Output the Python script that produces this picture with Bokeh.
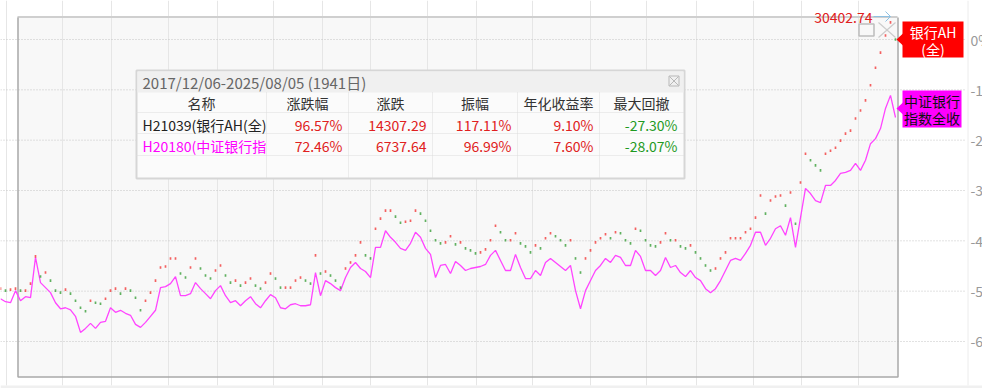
import numpy as np
from bokeh.plotting import figure
from bokeh.models import Range1d, ColumnDataSource
from bokeh.embed import file_html
from bokeh.resources import INLINE
from bokeh.core.properties import value

# ---------------- data (percent vs. last close of 银行AH(全)) ----------------
bank_ah = [-49.5, -49.9, -49.7, -49.5, -49.9, -49.9, -48.5, -43.1, -47.1, -46.3,
           -47.9, -49.9, -50.3, -49.7, -50.5, -51.9, -53.3, -54.0, -51.9, -52.3,
           -52.5, -51.5, -49.9, -49.5, -50.5, -49.5, -49.9, -51.3, -53.8, -51.9,
           -50.3, -47.9, -45.3, -45.1, -43.5, -43.5, -46.5, -47.3, -45.3, -43.5,
           -45.5, -46.9, -47.5, -45.9, -44.9, -46.9, -48.3, -47.9, -48.9, -48.3,
           -47.5, -48.9, -49.5, -48.3, -46.5, -47.5, -49.3, -49.3, -49.3, -47.9,
           -47.3, -47.9, -48.5, -42.9, -46.5, -46.1, -46.9, -47.9, -49.3, -45.5,
           -44.3, -42.9, -40.3, -42.9, -43.5, -37.6, -35.6, -34.0, -34.0, -35.2,
           -36.4, -36.2, -36.0, -34.0, -34.6, -36.0, -38.0, -39.9, -40.5, -40.3,
           -39.1, -40.7, -40.3, -41.5, -41.9, -42.5, -42.3, -41.7, -39.9, -37.0,
           -38.3, -39.9, -39.9, -38.5, -40.5, -41.1, -42.3, -40.9, -41.5, -39.5,
           -38.5, -39.1, -39.9, -40.9, -39.9, -43.5, -46.3, -43.5, -41.9, -40.3,
           -39.5, -38.7, -39.5, -38.3, -38.5, -39.9, -40.5, -37.6, -38.0, -39.9,
           -40.9, -41.1, -40.3, -38.5, -39.9, -39.9, -41.1, -41.5, -40.9, -42.3,
           -43.5, -44.9, -45.9, -45.5, -43.5, -42.3, -39.5, -39.5, -39.5, -38.3,
           -37.6, -35.4, -31.0, -34.6, -32.0, -31.2, -31.0, -33.0, -30.4, -36.6,
           -28.4, -22.7, -24.0, -25.0, -26.0, -22.7, -22.1, -21.5, -20.1, -18.7,
           -18.1, -15.7, -14.1, -12.1, -9.1, -5.6, -2.6, 0.8, 3.4, 0.0]

csi_bank = [-51.5, -52.1, -52.3, -49.9, -51.9, -51.1, -51.3, -43.3, -48.3, -49.3,
            -50.3, -52.3, -53.5, -53.3, -53.7, -55.0, -58.2, -57.4, -56.4, -57.4,
            -56.2, -56.0, -53.3, -54.2, -53.8, -54.4, -54.8, -56.6, -57.2, -56.2,
            -55.0, -53.8, -49.3, -49.1, -48.5, -47.1, -50.9, -50.9, -50.5, -48.3,
            -49.5, -50.5, -51.5, -49.9, -48.9, -50.9, -52.3, -51.9, -52.9, -51.9,
            -51.1, -52.5, -53.3, -51.9, -50.7, -51.3, -53.3, -53.5, -52.7, -52.5,
            -52.9, -52.9, -52.7, -46.3, -50.9, -47.9, -48.5, -49.3, -49.9, -47.3,
            -45.3, -44.3, -45.5, -46.1, -47.3, -41.3, -41.3, -38.0, -39.3, -40.3,
            -41.5, -41.9, -40.5, -38.3, -39.3, -41.5, -42.7, -47.3, -44.9, -44.7,
            -46.5, -44.1, -44.9, -45.9, -45.5, -45.3, -45.1, -44.7, -42.9, -41.9,
            -43.9, -45.9, -45.9, -42.7, -45.3, -47.5, -47.5, -45.9, -46.9, -44.3,
            -43.5, -44.3, -45.1, -45.9, -44.9, -49.9, -53.5, -49.9, -47.9, -45.9,
            -44.9, -43.5, -44.3, -42.9, -43.3, -44.9, -44.9, -41.9, -43.1, -45.9,
            -45.9, -46.9, -45.9, -43.3, -45.3, -44.9, -46.3, -47.1, -45.9, -47.3,
            -47.9, -49.5, -50.3, -49.5, -47.9, -45.9, -43.9, -43.5, -43.9, -42.5,
            -40.9, -38.3, -38.3, -40.9, -39.5, -37.6, -37.0, -38.9, -35.4, -41.3,
            -35.4, -29.6, -30.6, -32.0, -32.4, -29.0, -29.0, -28.0, -26.6, -26.4,
            -26.0, -24.6, -26.0, -24.0, -20.7, -19.7, -17.7, -13.7, -11.1, -15.5]

y_ticks = [0, -10, -20, -30, -40, -50, -60]
y_tick_labels = ["0%", "-10%", "-20%", "-30%", "-40%", "-50%", "-60%"]

period_title = "2017/12/06-2025/08/05 (1941日)"
table_headers = ["名称", "涨跌幅", "涨跌", "振幅", "年化收益率", "最大回撤"]
row_names = ["H21039(银行AH(全)", "H20180(中证银行指"]
pct_change = ["96.57%", "72.46%"]
abs_change = ["14307.29", "6737.64"]
amplitude = ["117.11%", "96.99%"]
annual_return = ["9.10%", "7.60%"]
max_drawdown = ["-27.30%", "-28.07%"]
max_price_label = "30402.74"
tag_ah = ["银行AH", "(全)"]
tag_csi = ["中证银行", "指数全收"]

# ---------------- layout helpers (pixel -> data) ----------------
W, H = 982, 388
PX = 5.0              # pixels per sample
Y0, SC = 39.0, 5.033  # pixel row of 0%, pixels per 1%
FONT = "Noto Sans CJK SC"


def X(px):
    return px / PX


def Y(py):
    return (Y0 - py) / SC


p = figure(width=W, height=H, x_range=Range1d(0, W / PX), y_range=Range1d(Y(H), Y(0)),
           x_axis_location=None, y_axis_location=None, toolbar_location=None,
           output_backend="svg", min_border=0, outline_line_color=None,
           background_fill_color="white", border_fill_color="white")
p.xgrid.visible = False
p.ygrid.visible = False

# selection box background
p.quad(left=[X(17)], right=[X(897)], top=[Y(16)], bottom=[Y(376)],
       fill_color="#f8f8f8", line_color=None)

# vertical grid
vgrid = [6, 62, 111, 168, 217, 273, 322, 370, 427, 476, 532, 590, 646, 696, 753, 801, 858]
p.segment(x0=[X(v) for v in vgrid], x1=[X(v) for v in vgrid],
          y0=[Y(0)] * len(vgrid), y1=[Y(385)] * len(vgrid),
          line_color="#e6e6e6", line_width=1)
# right axis line
p.segment(x0=[X(967.5)], x1=[X(967.5)], y0=[Y(0)], y1=[Y(385)], line_color="#ececec", line_width=1)
# bottom strip
p.quad(left=[X(0)], right=[X(W)], top=[Y(385)], bottom=[Y(H)], fill_color="#f0f0f0", line_color=None)

# horizontal dotted grid at ticks
p.segment(x0=[X(0)] * len(y_ticks), x1=[X(966)] * len(y_ticks), y0=y_ticks, y1=y_ticks,
          line_color="#c4c4c4", line_width=1, line_dash="1 2")
# tick labels (partly past the window edge, as in the reference)
p.text(x=[X(970)] * len(y_ticks), y=y_ticks, text=y_tick_labels,
       text_font=value(FONT), text_font_size="14px", text_color="#999999",
       text_baseline="middle", text_align="left")

# selection box border
p.line([X(17), X(897)], [Y(16.5), Y(16.5)], line_color="#cfcfcf", line_width=2)
p.line([X(17.5), X(17.5), X(897.5), X(897.5)], [Y(17), Y(376.5), Y(376.5), Y(17)],
       line_color="#a9a9a9", line_width=1.5)

# ---------------- series ----------------
idx = np.arange(len(bank_ah))
prev = [bank_ah[0]] + bank_ah[:-1]
colors = ["#f23a3a" if v >= pv else "#3a9f3a" for v, pv in zip(bank_ah, prev)]
src = ColumnDataSource(dict(x=idx, ah=bank_ah, csi=csi_bank, c=colors))

p.line("x", "csi", source=src, line_color="#ff44ff", line_width=1.3)
p.rect("x", "ah", width=1.7, height=2.6, width_units="screen", height_units="screen",
       source=src, fill_color="c", line_color=None, fill_alpha=0.8)

# max price marker label
p.text(x=[X(872)], y=[Y(17)], text=[max_price_label], text_font=value(FONT),
       text_font_size="14px", text_color="#e02020", text_align="right", text_baseline="middle")
p.segment(x0=[X(873)], x1=[X(890)], y0=[Y(16)], y1=[Y(16)], line_color="#8fc1e3", line_width=1)
p.line([X(885), X(890), X(885)], [Y(11), Y(16), Y(21)], line_color="#8fc1e3", line_width=1)

# box icons
p.quad(left=[X(858.5)], right=[X(873.5)], top=[Y(23.5)], bottom=[Y(35.5)],
       fill_color=None, line_color="#bdbdbd", line_width=1.5)
p.segment(x0=[X(878), X(878)], x1=[X(895), X(895)], y0=[Y(22), Y(37)], y1=[Y(37), Y(22)],
          line_color="#cccccc", line_width=1.2)

# ---------------- end tags ----------------
p.quad(left=[X(902)], right=[X(963)], top=[Y(21)], bottom=[Y(57)], fill_color="#ff0000", line_color=None)
p.patch([X(896), X(902.5), X(902.5)], [Y(39), Y(33), Y(45)], fill_color="#ff0000", line_color=None)
p.text(x=[X(932.5)] * 2, y=[Y(31), Y(48)], text=tag_ah, text_font=value(FONT),
       text_font_size="14px", text_color="white", text_align="center", text_baseline="middle")

p.quad(left=[X(902)], right=[X(961)], top=[Y(90)], bottom=[Y(127)], fill_color="#ff00ff", line_color=None)
p.patch([X(896), X(902.5), X(902.5)], [Y(108), Y(102), Y(114)], fill_color="#ff00ff", line_color=None)
p.text(x=[X(931.5)] * 2, y=[Y(100), Y(117)], text=tag_csi, text_font=value(FONT),
       text_font_size="14px", text_color="#111111", text_align="center", text_baseline="middle")

# ---------------- statistics panel ----------------
PL, PR, PT, PB = 136, 684, 70, 178
p.quad(left=[X(PL)], right=[X(PR)], top=[Y(PT)], bottom=[Y(PB)],
       fill_color="#fbfbfb", line_color="#d6d6d6", line_width=2)
p.quad(left=[X(PL + 1)], right=[X(PR - 1)], top=[Y(PT + 1)], bottom=[Y(92)],
       fill_color="#f0f0f0", line_color=None)
p.text(x=[X(142)], y=[Y(81.5)], text=[period_title], text_font=value(FONT),
       text_font_size="15px", text_color="#666666", text_baseline="middle")
# close icon
p.quad(left=[X(668.5)], right=[X(678.5)], top=[Y(75.5)], bottom=[Y(85.5)],
       fill_color=None, line_color="#b8b8b8", line_width=1)
p.segment(x0=[X(669), X(669)], x1=[X(678), X(678)], y0=[Y(76), Y(85)], y1=[Y(85), Y(76)],
          line_color="#b8b8b8", line_width=1)

col_edges = [136, 266, 348, 432, 517, 599, 683]
row_lines = [112, 133, 155]
p.segment(x0=[X(PL)] * 3, x1=[X(PR)] * 3, y0=[Y(r) for r in row_lines], y1=[Y(r) for r in row_lines],
          line_color="#dddddd", line_width=1, line_dash="1 1")
inner = col_edges[1:-1]
p.segment(x0=[X(c) for c in inner], x1=[X(c) for c in inner], y0=[Y(92)] * len(inner),
          y1=[Y(PB)] * len(inner), line_color="#dddddd", line_width=1, line_dash="1 1")

hx = [(a + b) / 2 for a, b in zip(col_edges[:-1], col_edges[1:])]
p.text(x=[X(v) for v in hx], y=[Y(102.5)] * len(hx), text=table_headers, text_font=value(FONT),
       text_font_size="14px", text_color="#333333", text_align="center", text_baseline="middle")

row_y = [Y(124.5), Y(145.5)]
p.text(x=[X(142)] * 2, y=row_y, text=row_names, text_font=value(FONT), text_font_size="14px",
       text_color=["#222222", "#ff00ff"], text_baseline="middle")
num_cols = [pct_change, abs_change, amplitude, annual_return]
for k, colvals in enumerate(num_cols):
    p.text(x=[X(col_edges[k + 2] - 6)] * 2, y=row_y, text=colvals, text_font=value(FONT),
           text_font_size="14px", text_color="#e02020", text_align="right", text_baseline="middle")
p.text(x=[X(col_edges[6] - 6)] * 2, y=row_y, text=max_drawdown, text_font=value(FONT),
       text_font_size="14px", text_color="#1f9a1f", text_align="right", text_baseline="middle")

open("out.html", "w").write(file_html(p, INLINE))
